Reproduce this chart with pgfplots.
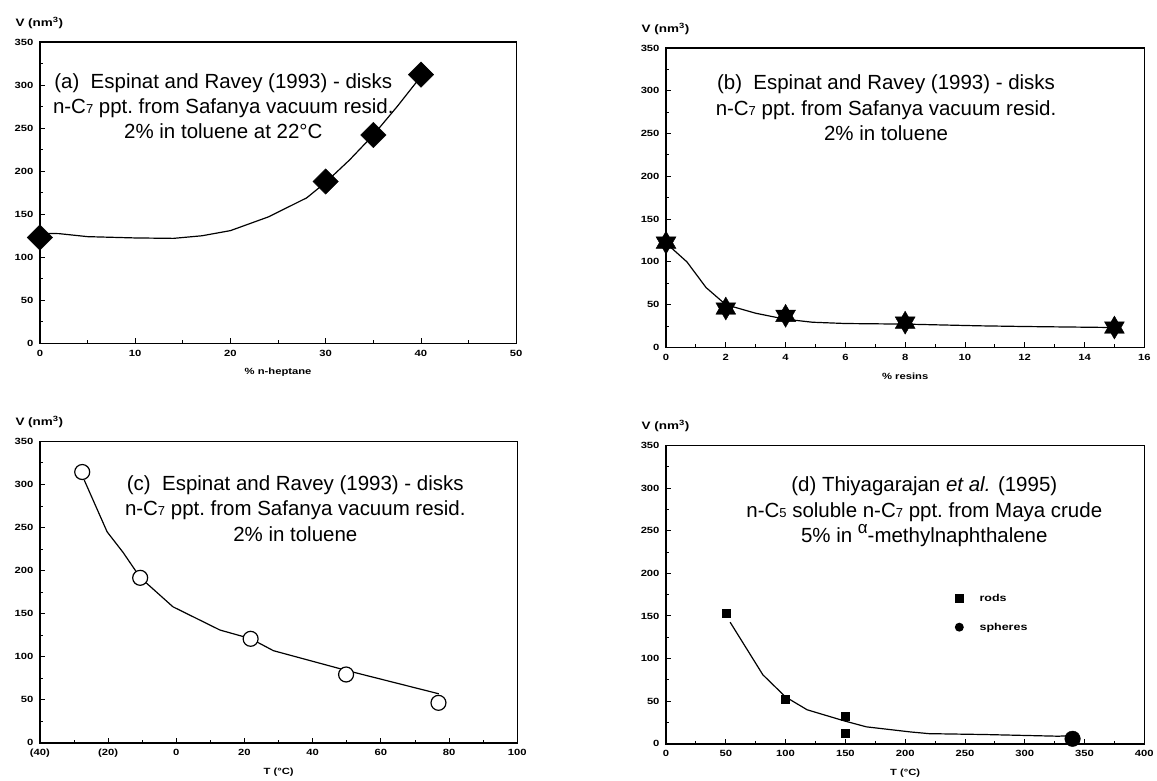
\documentclass[border=0pt]{standalone}
\usepackage{pgfplots}
\pgfplotsset{compat=1.18}
\usepackage{fontspec}
\setmainfont{Liberation Sans}
\newfontfamily\tickfont[FakeStretch=1.25]{Liberation Sans}
\newcommand\sm[1]{{\fontsize{13pt}{13pt}\selectfont #1}}
\pgfdeclareplotmark{hexstar}{%
  \pgfpathmoveto{\pgfqpointpolar{90}{\pgfplotmarksize}}%
  \pgfpathlineto{\pgfqpointpolar{210}{\pgfplotmarksize}}%
  \pgfpathlineto{\pgfqpointpolar{330}{\pgfplotmarksize}}%
  \pgfpathclose
  \pgfpathmoveto{\pgfqpointpolar{270}{\pgfplotmarksize}}%
  \pgfpathlineto{\pgfqpointpolar{30}{\pgfplotmarksize}}%
  \pgfpathlineto{\pgfqpointpolar{150}{\pgfplotmarksize}}%
  \pgfpathclose
  \pgfusepathqfillstroke}
\tikzset{
  ttl/.style={align=center, font=\fontsize{20.5pt}{25.5pt}\selectfont, anchor=center, inner sep=0pt},
  crv/.style={black, line width=1.2pt},
}
\pgfplotsset{
  panel/.style={
    scale only axis, anchor=south west, clip=false,
    axis line style={line width=1.4pt},
    tick pos=left, tick align=inside,
    major tick length=5pt, minor tick length=3pt,
    every tick/.style={black, line width=0.9pt},
    minor x tick num=1, minor y tick num=1,
    ymin=0, ymax=350, ytick={0,50,...,350},
    tick label style={font=\tickfont\bfseries\fontsize{9pt}{9pt}\selectfont},
    /pgf/number format/assume math mode=true,
    /pgf/number format/1000 sep={},
    yticklabel style={xshift=-3pt},
    xticklabel style={yshift=-3pt},
    ylabel={V (nm\textsuperscript{3})},
    every axis y label/.style={at={(rel axis cs:0,1)}, anchor=west, xshift=-28pt, yshift=19pt,
      font=\tickfont\bfseries\fontsize{10.8pt}{11pt}\selectfont},
    every axis x label/.style={at={(rel axis cs:0.5,0)}, anchor=center, yshift=-29pt,
      font=\tickfont\bfseries\fontsize{9pt}{9pt}\selectfont},
  },
}
\begin{document}
\begin{tikzpicture}
\path (0,0) rectangle (1157pt,778pt);
% (a)
\begin{axis}[panel, at={(40pt,434pt)}, width=477pt, height=302pt,
  xmin=0, xmax=50, xtick={0,10,...,50}, xlabel={\% n-heptane}]
\addplot[crv, no marks] coordinates {(0,128) (2,127.5) (5,124) (10,122.5) (14,122) (17,125) (20,131) (24,147) (28,169) (30,187) (32.5,213) (35,242) (37.5,275) (40,310)};
\addplot[only marks, mark=square*, mark size=9pt, mark options={rotate=45, fill=black, draw=black}] coordinates {(0,123) (30,188) (35,242) (40,312)};
\node[ttl] at (rel axis cs:0.385,0.787) {(a)\ \ Espinat and Ravey (1993) - disks\\ n-C\sm{7} ppt.\ from Safanya vacuum resid.\\ 2\% in toluene at 22°C};
\end{axis}
% (b)
\begin{axis}[panel, at={(667pt,430pt)}, width=479pt, height=300pt,
  xmin=0, xmax=16, xtick={0,2,...,16}, xlabel={\% resins}]
\addplot[crv, no marks] coordinates {(0,122) (0.7,100) (1.34,70) (2,50) (3,40) (4,33) (4.9,29.5) (6,28) (8,27.3) (10.5,25.3) (12,24.5) (15,23.3)};
\addplot[only marks, mark=hexstar, mark size=11.5pt, mark options={fill=black, draw=black}] coordinates {(0,122.5) (2,45.5) (4,37) (8,29) (15,23.3)};
\node[ttl] at (rel axis cs:0.46,0.8) {(b)\ \ Espinat and Ravey (1993) - disks\\ n-C\sm{7} ppt.\ from Safanya vacuum resid.\\ 2\% in toluene};
\end{axis}
% (c)
\begin{axis}[panel, at={(40pt,34pt)}, width=478pt, height=302pt,
  xmin=-40, xmax=100, xtick={-40,-20,...,100}, xticklabels={(40),(20),0,20,40,60,80,100}, xlabel={T (°C)}]
\addplot[crv, no marks] coordinates {(-27,305) (-20.3,245) (-15.6,221) (-10.6,192) (-1,158) (12.8,131) (21.8,121) (28.5,107) (50,84) (77,57)};
\addplot[only marks, mark=*, mark size=7.5pt, mark options={fill=white, draw=black, line width=1.2pt}] coordinates {(-27.6,314.4) (-10.6,191.6) (21.8,120.8) (49.8,79.4) (76.9,46.5)};
\node[ttl] at (rel axis cs:0.535,0.777) {(c)\ \ Espinat and Ravey (1993) - disks\\ n-C\sm{7} ppt.\ from Safanya vacuum resid.\\ 2\% in toluene};
\end{axis}
% (d)
\begin{axis}[panel, at={(667pt,33pt)}, width=479pt, height=299pt,
  xmin=0, xmax=400, xtick={0,50,...,400}, xlabel={T (°C)},
  legend style={draw=none, fill=none, at={(rel axis cs:0.603,0.439)}, anchor=west, inner sep=0pt,
    font=\tickfont\bfseries\fontsize{10pt}{10pt}\selectfont, row sep=16pt},
  legend cell align=left]
\addplot[crv, no marks, forget plot] coordinates {(53.6,142.7) (81,81) (100,55) (118,40) (149,27) (167.5,20) (204.5,14) (220,12) (266,11) (328,9) (336,9.5)};
\addplot[only marks, mark=square*, mark size=4pt, mark options={fill=black, draw=black},
  legend image code/.code={\node[fill=black, inner sep=0pt, minimum size=9pt] at (0,0) {};\path[draw=none] (0,0) -- (23pt,0);}]
  coordinates {(50,153) (100,52) (150,33) (150,12.5)};
\addlegendentry{rods}
\addplot[only marks, mark=*, mark size=7.8pt, mark options={fill=black, draw=black},
  legend image code/.code={\node[circle, fill=black, inner sep=0pt, minimum size=9pt] at (0,0) {};\path[draw=none] (0,0) -- (23pt,0);}]
  coordinates {(340,6)};
\addlegendentry{spheres}
\node[ttl] at (rel axis cs:0.54,0.777) {(d) Thiyagarajan \textit{et al.} (1995)\\ n-C\sm{5} soluble n-C\sm{7} ppt.\ from Maya crude\\ 5\% in \raisebox{0.45em}{\fontsize{17pt}{17pt}\selectfont α}-methylnaphthalene};
\end{axis}
\end{tikzpicture}
\end{document}
